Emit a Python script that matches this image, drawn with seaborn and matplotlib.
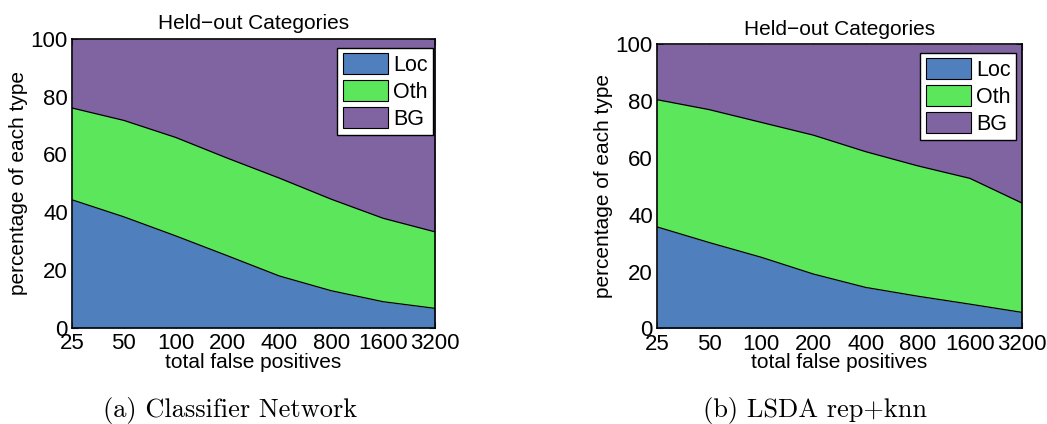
import matplotlib
matplotlib.use("Agg")
import matplotlib.pyplot as plt
import seaborn as sns
import numpy as np
import pandas as pd
from matplotlib.patches import Patch

fp_labels = ["25", "50", "100", "200", "400", "800", "1600", "3200"]

# Left panel: Classifier Network (cumulative boundaries)
left_loc = [44.3, 38.4, 31.8, 24.9, 17.9, 12.8, 9.0, 6.7]
left_loc_oth = [76.1, 71.8, 65.9, 58.7, 51.8, 44.5, 37.9, 33.2]

# Right panel: LSDA rep+knn
right_loc = [35.7, 30.2, 25.0, 19.1, 14.4, 11.3, 8.5, 5.6]
right_loc_oth = [80.5, 77.0, 72.5, 68.0, 62.2, 57.2, 52.8, 44.1]

series_names = ["Loc", "Oth", "BG"]
colors = {"Loc": "#4f80bd", "Oth": "#5ce65c", "BG": "#8064a2"}

sns.set_theme(style="white")
plt.rcParams["font.family"] = ["Liberation Sans", "DejaVu Sans"]
plt.rcParams["text.color"] = "black"
plt.rcParams["axes.labelcolor"] = "black"
plt.rcParams["xtick.color"] = "black"
plt.rcParams["ytick.color"] = "black"

fig = plt.figure(figsize=(10.47, 4.24), dpi=100)
W, H = 1047, 424
ax1 = fig.add_axes([72 / W, (H - 327.7) / H, (435 - 72) / W, (327.7 - 39) / H])
ax2 = fig.add_axes([657 / W, (H - 328.3) / H, (1022 - 657) / W, (328.3 - 44.3) / H])

fs_tick = 16
fs_lab = 15

def draw(ax, loc, loc_oth, legend_bbox):
    x = np.arange(len(fp_labels))
    df = pd.DataFrame({"x": x, "loc": loc, "loc_oth": loc_oth})
    ax.fill_between(x, 0, df["loc"], color=colors["Loc"], lw=0)
    ax.fill_between(x, df["loc"], df["loc_oth"], color=colors["Oth"], lw=0)
    ax.fill_between(x, df["loc_oth"], 100, color=colors["BG"], lw=0)
    sns.lineplot(data=df, x="x", y="loc", ax=ax, color="black", lw=0.9)
    sns.lineplot(data=df, x="x", y="loc_oth", ax=ax, color="black", lw=0.9)
    ax.set_xlim(0, len(fp_labels) - 1)
    ax.set_ylim(0, 100)
    ax.set_xticks(x)
    ax.set_xticklabels(fp_labels)
    ax.set_yticks([0, 20, 40, 60, 80, 100])
    ax.tick_params(axis="both", which="both", direction="in", length=4, width=0.8,
                   top=True, right=True, bottom=True, left=True,
                   labelsize=fs_tick, color="#333333")
    ax.tick_params(axis="x", pad=4)
    ax.tick_params(axis="y", pad=3)
    for s in ax.spines.values():
        s.set_visible(True)
        s.set_color("black")
        s.set_linewidth(1.2)
    ax.set_xlabel("total false positives", fontsize=fs_lab, labelpad=-1)
    ax.set_ylabel("percentage of each type", fontsize=fs_lab, labelpad=2)
    ax.set_title("Held\u2212out Categories", fontsize=fs_lab, pad=7)
    handles = [Patch(facecolor=colors[n], edgecolor="black", lw=0.8, label=n) for n in series_names]
    leg = ax.legend(handles=handles, loc="upper right", bbox_to_anchor=legend_bbox,
                    fontsize=15.5, frameon=True, fancybox=False,
                    handlelength=2.1, handleheight=1.1, handletextpad=0.25,
                    borderpad=0.25, labelspacing=0.2, borderaxespad=0)
    leg.get_frame().set_edgecolor("black")
    leg.get_frame().set_linewidth(1.0)
    leg.get_frame().set_facecolor("white")
    leg.get_frame().set_alpha(1)

draw(ax1, left_loc, left_loc_oth, (0.995, 0.97))
draw(ax2, right_loc, right_loc_oth, (0.984, 0.970))

fig.text(230 / W, 1 - 411 / H, "(a) Classifier Network",
         ha="center", va="center", fontsize=19, family="cmr10")
fig.text(815 / W, 1 - 411 / H, "(b) LSDA rep+knn",
         ha="center", va="center", fontsize=19, family="cmr10")

fig.savefig("out.png", dpi=100)
